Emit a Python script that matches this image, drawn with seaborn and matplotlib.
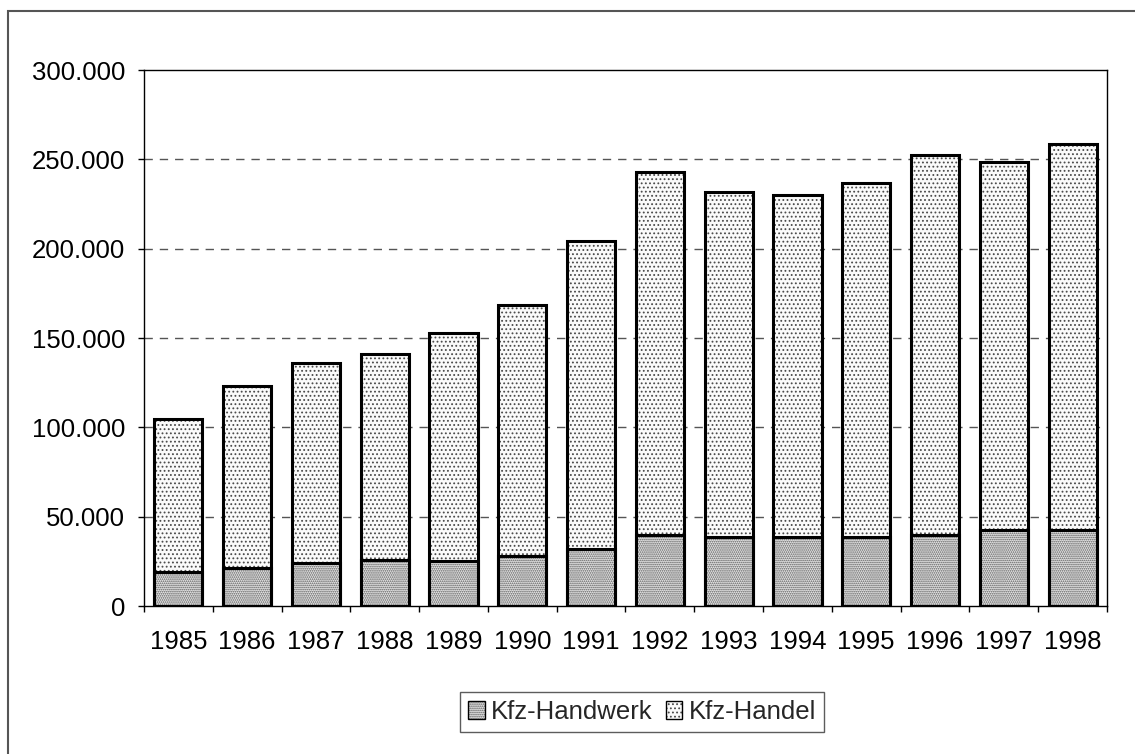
import matplotlib
matplotlib.use("Agg")
import matplotlib.pyplot as plt
import matplotlib.ticker as mticker
from matplotlib.patches import Rectangle, Patch
from matplotlib.colors import to_rgba
import numpy as np
import pandas as pd
import seaborn as sns

years = ["1985", "1986", "1987", "1988", "1989", "1990", "1991",
         "1992", "1993", "1994", "1995", "1996", "1997", "1998"]
handwerk = [19000, 21400, 24100, 25600, 25400, 28000, 32100,
            39600, 38600, 38600, 38600, 39600, 42400, 42400]
totals = [104500, 123000, 135800, 140900, 152800, 168300, 204500,
          243100, 231700, 230200, 236900, 252400, 248300, 258800]
handel = [t - h for t, h in zip(totals, handwerk)]
labels = ["Kfz-Handwerk", "Kfz-Handel"]

sns.set_theme(style="white")
plt.rcParams['font.family'] = ['Liberation Sans', 'DejaVu Sans']
plt.rcParams['hatch.linewidth'] = 0.8

FS = 18.5
HW_HATCH, HW_HC, HW_FC = '........', '#5a5a5a', '#e4e4e4'
HD_HATCH, HD_HC, HD_FC = '....', '#4a4a4a', '#fafafa'

fig = plt.figure(figsize=(11.35, 7.54), dpi=100)
ax = fig.add_axes([144/1135, 1-606/754, (1107-144)/1135, (606-70)/754])

df = pd.DataFrame({"Jahr": years, "Handwerk": handwerk, "Handel": handel,
                   "Gesamt": totals})

sns.barplot(data=df, x="Jahr", y="Gesamt", color="white", width=0.7,
            edgecolor="black", linewidth=2.2, saturation=1, ax=ax, zorder=3)
n1 = len(ax.patches)
sns.barplot(data=df, x="Jahr", y="Handwerk", color="white", width=0.7,
            edgecolor="black", linewidth=2.2, saturation=1, ax=ax, zorder=3)
for i, p in enumerate(ax.patches):
    if i < n1:
        p.set_hatch(HD_HATCH)
        p.set_facecolor(HD_FC)
        p._hatch_color = to_rgba(HD_HC)
    else:
        p.set_hatch(HW_HATCH)
        p.set_facecolor(HW_FC)
        p._hatch_color = to_rgba(HW_HC)

ax.set_ylim(0, 300000)
ax.set_xlim(-0.5, len(years) - 0.5)
ax.set_yticks(np.arange(0, 300001, 50000))
ax.yaxis.set_major_formatter(mticker.FuncFormatter(
    lambda v, p: f"{v:,.0f}".replace(",", ".")))
for y in range(50000, 300000, 50000):
    ax.axhline(y, color="#555555", lw=1.0, ls=(0, (6, 5)), zorder=1)

ax.set_xlabel("")
ax.set_ylabel("")
for s in ax.spines.values():
    s.set_visible(True)
    s.set_color("black")
    s.set_linewidth(1.0)

ax.tick_params(axis="y", which="major", direction="out", length=4.5, width=1,
               color="black", labelsize=FS, pad=9, left=True)
ax.tick_params(axis="x", which="major", length=0, labelsize=FS, pad=17)
ax.xaxis.set_minor_locator(mticker.FixedLocator(np.arange(-0.5, len(years), 1)))
ax.tick_params(axis="x", which="minor", direction="out", length=4.5, width=1,
               color="black", bottom=True)
for lbl in ax.get_xticklabels() + ax.get_yticklabels():
    lbl.set_color("black")

h1 = Patch(facecolor=HW_FC, edgecolor='black', hatch=HW_HATCH, lw=1)
h1._hatch_color = to_rgba(HW_HC)
h2 = Patch(facecolor=HD_FC, edgecolor='black', hatch=HD_HATCH, lw=1)
h2._hatch_color = to_rgba(HD_HC)
leg = fig.legend([h1, h2], labels, loc="center", bbox_to_anchor=(642/1135, 1-712/754),
                 ncol=2, frameon=True, fancybox=False, fontsize=FS,
                 handlelength=0.65, handleheight=0.65, handletextpad=0.25,
                 columnspacing=0.5, borderpad=0.3, borderaxespad=0)
leg.get_frame().set_edgecolor("#333333")
leg.get_frame().set_linewidth(1.0)

fig.patches.append(Rectangle((8/1135, -0.05), 1.2, 1.05 - 11/754,
                             transform=fig.transFigure, fill=False,
                             edgecolor="#555555", lw=1.5))

fig.savefig("out.png", dpi=100)
